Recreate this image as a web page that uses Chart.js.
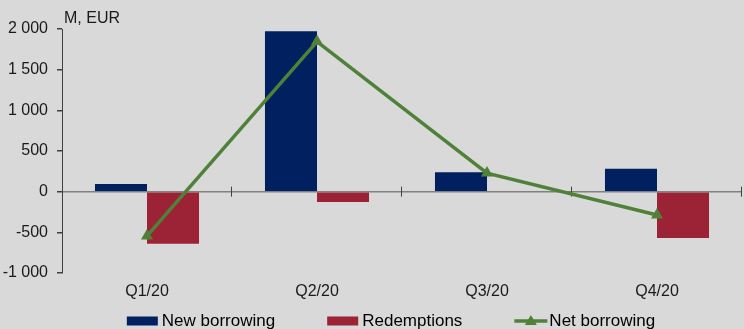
<!DOCTYPE html>
<html>
<head>
<meta charset="utf-8">
<script src="https://cdn.jsdelivr.net/npm/chart.js@4/dist/chart.umd.min.js"></script>
<style>
  html, body { margin: 0; padding: 0; background: #d9d9d9; }
  #wrap { width: 744px; height: 329px; position: relative; }
</style>
</head>
<body>
<div id="wrap"><canvas id="c" width="744" height="329"></canvas></div>
<script>
// Quarterly borrowing flows, M EUR
const quarters = ['Q1/20', 'Q2/20', 'Q3/20', 'Q4/20'];
const newBorrowing = [95, 1972, 238, 283];
const redemptions = [-639, -127, -10, -569];
const netBorrowing = [-544, 1845, 228, -286];
const yTicks = [-1000, -500, 0, 500, 1000, 1500, 2000];

const NAVY = '#002060';
const RED = '#9c2236';
const GREEN = '#4f8139';
const FONT = '"Liberation Sans", Arial, sans-serif';

function fmt(v) {
  const s = Math.abs(v).toString().replace(/\B(?=(\d{3})+(?!\d))/g, ' ');
  return (v < 0 ? '-' : '') + s;
}

// unit caption above the value axis
const unitLabel = {
  id: 'unitLabel',
  afterDraw(chart) {
    const { ctx, chartArea } = chart;
    ctx.save();
    ctx.font = '16px ' + FONT;
    ctx.fillStyle = '#1a1a1a';
    ctx.textBaseline = 'alphabetic';
    ctx.textAlign = 'left';
    ctx.fillText('M, EUR', chartArea.left + 2, chartArea.top - 6);
    ctx.restore();
  }
};

// category separator ticks crossing the zero line
const zeroTicks = {
  id: 'zeroTicks',
  beforeDatasetsDraw(chart) {
    const { ctx } = chart;
    const x = chart.scales.x, y = chart.scales.y;
    const y0 = y.getPixelForValue(0);
    const n = quarters.length;
    const w = (x.right - x.left) / n;
    ctx.save();
    ctx.strokeStyle = '#404040';
    ctx.lineWidth = 1;
    for (let i = 1; i <= n; i++) {
      const px = Math.round(x.left + i * w) - 0.5;
      ctx.beginPath();
      ctx.moveTo(px, y0 - 5);
      ctx.lineTo(px, y0 + 5);
      ctx.stroke();
    }
    ctx.restore();
  }
};

// legend row under the category labels
const legendRow = {
  id: 'legendRow',
  afterDraw(chart) {
    const { ctx, chartArea } = chart;
    const ds = chart.data.datasets;
    const items = [ds[1], ds[2], ds[0]];
    ctx.save();
    ctx.font = '17px ' + FONT;
    const sw = 31, gap = 4, itemGap = 52;
    const widths = items.map(d => sw + gap + ctx.measureText(d.label).width);
    const total = widths.reduce((a, b) => a + b, 0) + itemGap * (items.length - 1);
    let x = (chartArea.left + chartArea.right) / 2 - 11 - total / 2;
    const cy = 321;
    items.forEach((d, i) => {
      if (d.type === 'line') {
        ctx.strokeStyle = d.borderColor;
        ctx.lineWidth = 3.5;
        ctx.beginPath();
        ctx.moveTo(x, cy);
        ctx.lineTo(x + sw + 2, cy);
        ctx.stroke();
        const mx = x + (sw + 2) / 2;
        ctx.fillStyle = d.borderColor;
        ctx.beginPath();
        ctx.moveTo(mx, cy - 6);
        ctx.lineTo(mx + 6, cy + 4);
        ctx.lineTo(mx - 6, cy + 4);
        ctx.closePath();
        ctx.fill();
      } else {
        ctx.fillStyle = d.backgroundColor;
        ctx.fillRect(x, cy - 4.5, sw, 9);
      }
      ctx.fillStyle = '#000000';
      ctx.textBaseline = 'middle';
      ctx.textAlign = 'left';
      ctx.fillText(d.label, x + sw + gap, cy);
      x += widths[i] + itemGap;
    });
    ctx.restore();
  }
};

new Chart(document.getElementById('c'), {
  data: {
    labels: quarters,
    datasets: [
      {
        type: 'line',
        label: 'Net borrowing',
        data: netBorrowing,
        borderColor: GREEN,
        backgroundColor: GREEN,
        borderWidth: 3.5,
        pointStyle: 'triangle',
        pointRadius: 7,
        pointBorderWidth: 0,
        pointBackgroundColor: GREEN,
        tension: 0,
        order: 0
      },
      {
        type: 'bar',
        label: 'New borrowing',
        data: newBorrowing,
        backgroundColor: NAVY,
        categoryPercentage: 0.612,
        barPercentage: 1,
        order: 1
      },
      {
        type: 'bar',
        label: 'Redemptions',
        data: redemptions,
        backgroundColor: RED,
        categoryPercentage: 0.612,
        barPercentage: 1,
        order: 1
      }
    ]
  },
  options: {
    responsive: false,
    animation: false,
    devicePixelRatio: 1,
    layout: { autoPadding: false, padding: { top: 29, right: 2, left: 0, bottom: 0 } },
    plugins: {
      legend: { display: false },
      tooltip: { enabled: false }
    },
    scales: {
      x: {
        type: 'category',
        offset: true,
        grid: { display: false, drawTicks: false },
        border: { display: false },
        ticks: {
          color: '#1a1a1a',
          font: { family: FONT, size: 16 },
          padding: 9,
          maxRotation: 0
        },
        afterFit(scale) {
          scale.height = 56;
          scale.paddingLeft = 0;
          scale.paddingRight = 0;
        }
      },
      y: {
        min: -1000,
        max: 2000,
        afterBuildTicks(scale) { scale.ticks = yTicks.map(v => ({ value: v })); },
        grid: {
          color: ctx => (ctx.tick && ctx.tick.value === 0) ? '#808080' : 'rgba(0,0,0,0)',
          lineWidth: 1.5,
          tickColor: '#404040',
          tickLength: 5,
          drawTicks: true
        },
        border: { display: true, color: '#404040', width: 1 },
        ticks: {
          color: '#1a1a1a',
          font: { family: FONT, size: 16 },
          padding: 9,
          callback: v => fmt(v)
        },
        afterFit(scale) { scale.width = 62; }
      }
    }
  },
  plugins: [unitLabel, zeroTicks, legendRow]
});
</script>
</body>
</html>
